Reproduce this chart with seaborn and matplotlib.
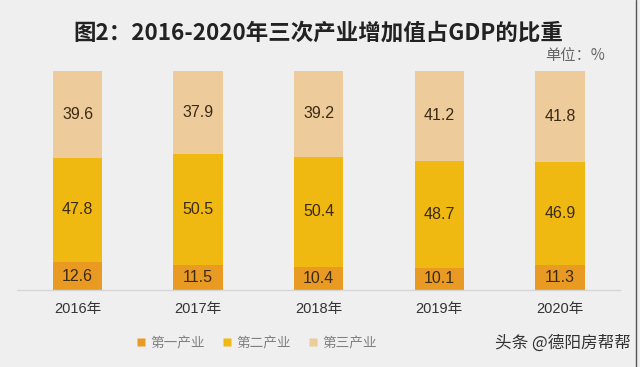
import matplotlib
matplotlib.use('Agg')
import matplotlib.pyplot as plt
import seaborn as sns
import pandas as pd
from matplotlib.lines import Line2D

# data
years = ['2016年', '2017年', '2018年', '2019年', '2020年']
primary = [12.6, 11.5, 10.4, 10.1, 11.3]
secondary = [47.8, 50.5, 50.4, 48.7, 46.9]
tertiary = [39.6, 37.9, 39.2, 41.2, 41.8]
series_names = ['第一产业', '第二产业', '第三产业']
colors = ['#E89A22', '#F0B912', '#EDCB9B']

sns.set_style('white')
plt.rcParams['font.family'] = ['Noto Sans CJK SC', 'DejaVu Sans']
bg = '#EFEFEF'

df = pd.DataFrame({'year': years, 'p1': primary, 'p2': secondary, 'p3': tertiary})
df['c1'] = df['p1']
df['c2'] = df['p1'] + df['p2']
df['c3'] = df['c2'] + df['p3']

fig = plt.figure(figsize=(6.4, 3.67), dpi=100, facecolor=bg)
ax = fig.add_axes([0.027, 0.21, 0.942, 0.597])
ax.set_facecolor(bg)

# stacked bars: draw cumulative totals from top layer down
for col, c in zip(['c3', 'c2', 'c1'], colors[::-1]):
    sns.barplot(data=df, x='year', y=col, color=c, width=0.41,
                saturation=1, ax=ax, edgecolor='none')

# value labels in the middle of each segment
for i in range(len(years)):
    bottoms = [0, df['c1'][i], df['c2'][i]]
    for b, v in zip(bottoms, [primary[i], secondary[i], tertiary[i]]):
        ax.text(i, b + v / 2, f'{v:.1f}', ha='center', va='center',
                fontsize=11.5, color='#3B2A14', family=['Liberation Sans'])

ax.set_xlim(-0.5, 4.5)
ax.set_ylim(0, 100)
ax.set_xlabel('')
ax.set_ylabel('')
ax.set_yticks([])
ax.tick_params(axis='x', length=0, pad=9, labelsize=10.5, labelcolor='#333333')
for lbl in ax.get_xticklabels():
    lbl.set_family(['Liberation Sans', 'Noto Sans CJK SC'])
for s in ['top', 'right', 'left']:
    ax.spines[s].set_visible(False)
ax.spines['bottom'].set_color('#D6D6D6')
ax.spines['bottom'].set_linewidth(1)

fig.text(0.497, 0.91, '图2：2016-2020年三次产业增加值占GDP的比重', ha='center',
         va='center', fontsize=16.2, fontweight='bold', color='#222222')
fig.text(0.945, 0.85, '单位：%', ha='right', va='center', fontsize=11, color='#666666')

handles = [Line2D([], [], marker='s', linestyle='none', markersize=6,
                  markerfacecolor=c, markeredgecolor='none') for c in colors]
leg = fig.legend(handles, series_names, loc='center', bbox_to_anchor=(0.4, 0.065),
                 ncol=3, frameon=False, fontsize=9.8, handlelength=0.8,
                 handletextpad=0.3, columnspacing=1.2)
for t in leg.get_texts():
    t.set_color('#808080')

fig.text(0.985, 0.065, '头条 @德阳房帮帮', ha='right', va='center', fontsize=12,
         color='#333333')
fig.add_artist(Line2D([0.994, 0.994], [0, 1], transform=fig.transFigure,
                      color='#555555', linewidth=1))

fig.savefig('out.png', dpi=100, facecolor=bg)
